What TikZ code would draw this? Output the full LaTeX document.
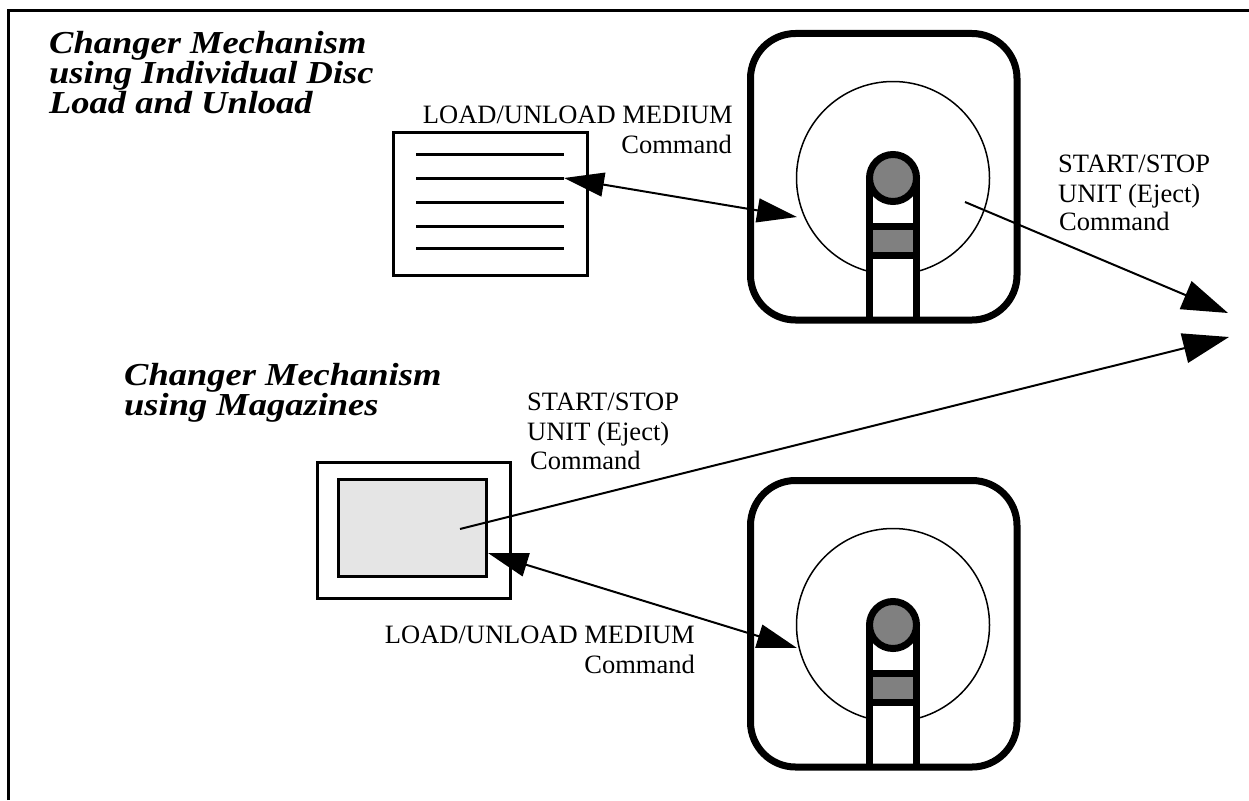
\documentclass[tikz,border=0pt]{standalone}
\usepackage{fontspec}
\setmainfont{Liberation Serif}
\usetikzlibrary{arrows.meta}
\definecolor{slotgray}{HTML}{808080}
\definecolor{magfill}{HTML}{E5E5E5}
\newcommand{\widetitle}[1]{\scalebox{1.14}[1]{#1}}
\tikzset{
  cmdtext/.style={inner sep=0pt, font=\fontsize{26.5}{30}\selectfont},
  titletext/.style={inner sep=0pt, font=\fontsize{32}{30}\selectfont\bfseries\itshape},
  frameline/.style={line width=3pt},
  boxline/.style={line width=3pt},
  longarrow/.style={line width=2pt, -{Triangle[length=46pt,width=30pt]}},
  duplex/.style={line width=2pt, {Triangle[length=40pt,width=24pt]}-{Triangle[length=40pt,width=24pt]}},
  drive/.pic={
    % disc
    \draw[line width=1.5pt] (0,0) circle (96.5pt);
    % slot interior
    \fill[white] (-23.5,0) rectangle (23.5,142);
    % housing
    \draw[line width=7pt, rounded corners=45pt] (-142.5,-144.5) rectangle (124,142);
    % slot walls, hub and latch
    \draw[line width=7pt] (-23.5,0) -- (-23.5,142) (23.5,0) -- (23.5,142);
    \draw[line width=7pt, fill=slotgray] (0,0) circle (23.5pt);
    \draw[line width=7pt, fill=slotgray] (-23.5,48.5) rectangle (23.5,77.5);
  }
}
\begin{document}
\begin{tikzpicture}[x=1pt, y=-1pt]
  \useasboundingbox (0,0) rectangle (1249,800);

  % outer frame (top and left edges)
  \draw[frameline] (8.5,800) -- (8.5,10.5) -- (1249,10.5);

  % titles
  \node[titletext, anchor=base west] (ta1) at (49,53) {\widetitle{Changer Mechanism}};
  \node[titletext, anchor=base west] (ta2) at (49,83) {\widetitle{using Individual Disc}};
  \node[titletext, anchor=base west] (ta3) at (49,113) {\widetitle{Load and Unload}};
  \node[titletext, anchor=base west] (tb1) at (124,385) {\widetitle{Changer Mechanism}};
  \node[titletext, anchor=base west] (tb2) at (124,415) {\widetitle{using Magazines}};

  % drives
  \pic (driveA) at (893,178) {drive};
  \pic (driveB) at (893,625) {drive};

  % single disc stack
  \draw[boxline] (393,132) rectangle (587,275);
  \foreach \yy in {154,178,202,226,248}
    \draw[boxline] (416,\yy) -- (564,\yy);

  % magazine
  \draw[boxline] (317,462) rectangle (510,598);
  \draw[boxline, fill=magfill] (338,479) rectangle (486,576);

  % connector end points
  \coordinate (discA) at (564,178);
  \coordinate (slotA) at (797,217);
  \coordinate (ejectA) at (965,202);
  \coordinate (outA) at (1228,313);
  \coordinate (magIn) at (460,529);
  \coordinate (outB) at (1229,337);
  \coordinate (magCorner) at (488,553);
  \coordinate (slotB) at (797,648);

  % connectors
  \draw[duplex] (discA) -- (slotA);
  \draw[longarrow] (ejectA) -- (outA);
  \draw[longarrow] (magIn) -- (outB);
  \draw[duplex] (magCorner) -- (slotB);

  % command labels
  \node[cmdtext, anchor=base east] (la1) at (733,123) {LOAD/UNLOAD MEDIUM};
  \node[cmdtext, anchor=base east] (la2) at (732,153) {Command};

  \node[cmdtext, anchor=base west] (sa1) at (1058,172) {START/STOP};
  \node[cmdtext, anchor=base west] (sa2) at (1058,202) {UNIT (Eject)};
  \node[cmdtext, anchor=base west] (sa3) at (1059,230) {Command};

  \node[cmdtext, anchor=base west] (sb1) at (527,410) {START/STOP};
  \node[cmdtext, anchor=base west] (sb2) at (527,440) {UNIT (Eject)};
  \node[cmdtext, anchor=base west] (sb3) at (530,469) {Command};

  \node[cmdtext, anchor=base east] (lb1) at (695,643) {LOAD/UNLOAD MEDIUM};
  \node[cmdtext, anchor=base east] (lb2) at (695,673) {Command};
\end{tikzpicture}
\end{document}
